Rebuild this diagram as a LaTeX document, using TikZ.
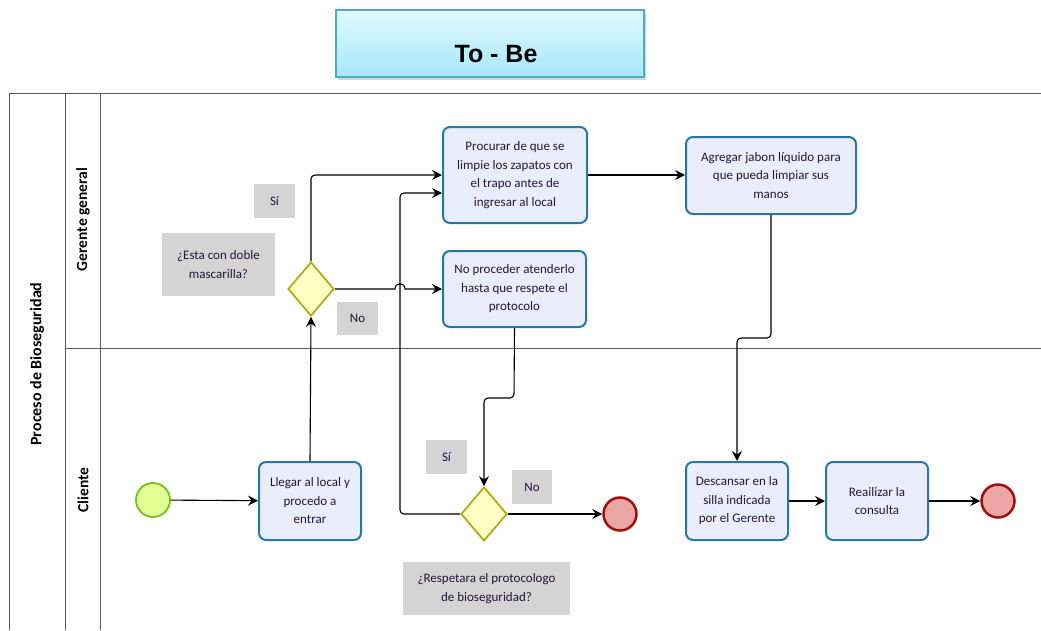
\documentclass[tikz,border=0pt]{standalone}
\usepackage{fontspec}
\setmainfont{Carlito}
\newfontfamily\arialfont{Liberation Sans}
\usetikzlibrary{shapes.geometric,arrows.meta,shadows}
\definecolor{taskfill}{RGB}{234,238,252}
\definecolor{taskdraw}{RGB}{40,120,165}
\definecolor{txt}{RGB}{40,20,60}
\definecolor{gwfill}{RGB}{255,255,196}
\definecolor{gwdraw}{RGB}{180,170,30}
\definecolor{stfill}{RGB}{226,255,150}
\definecolor{stdraw}{RGB}{120,190,30}
\definecolor{enfill}{RGB}{236,166,166}
\definecolor{endraw}{RGB}{160,15,15}
\definecolor{lblfill}{RGB}{212,212,212}
\definecolor{pooldraw}{RGB}{90,90,90}
\definecolor{titletop}{RGB}{226,249,255}
\definecolor{titlebot}{RGB}{166,232,250}
\definecolor{titledraw}{RGB}{75,172,198}
\tikzset{
  task/.style={draw=taskdraw, fill=taskfill, line width=2pt, rounded corners=7pt,
    align=center, text=txt, font=\fontsize{13}{18.5}\selectfont, inner sep=2pt},
  gw/.style={diamond, draw=gwdraw, fill=gwfill, line width=1.8pt, minimum width=46pt,
    minimum height=54pt, inner sep=0pt},
  startev/.style={circle, draw=stdraw, fill=stfill, line width=1.8pt, minimum size=34pt, inner sep=0pt},
  endev/.style={circle, draw=endraw, fill=enfill, line width=2.5pt, minimum size=33pt, inner sep=0pt},
  lbl/.style={fill=lblfill, align=center, text=txt, font=\fontsize{13}{18.5}\selectfont, inner sep=0pt},
  flow/.style={line width=1.1pt, -{Stealth[length=10pt,width=10pt,inset=3.5pt]}, rounded corners=4pt},
  poolline/.style={draw=pooldraw, line width=1pt},
  lanetxt/.style={rotate=90, font=\bfseries\fontsize{15.5}{18}\selectfont},
}
\begin{document}
\begin{tikzpicture}[x=1pt,y=-1pt]
\useasboundingbox (0,0) rectangle (1041,630);
% title
\node[draw=titledraw, line width=1.5pt, top color=titletop, bottom color=titlebot,
  minimum width=308pt, minimum height=67pt, drop shadow={opacity=0.35, shadow xshift=2pt, shadow yshift=-3pt}] (title) at (490,43.5) {};
\node[font=\arialfont\bfseries\fontsize{25}{28}\selectfont, anchor=base] (titletxt) at (496,62) {To - Be};
% pool
\draw[poolline] (1041,93) -- (9,93) -- (9,630);
\draw[poolline] (65,93) -- (65,630);
\draw[poolline] (100,93) -- (100,630);
\draw[poolline] (65,348) -- (1041,348);
\node[lanetxt, font=\bfseries\fontsize{16}{18}\selectfont] (pool) at (37,364) {Proceso de Bioseguridad};
\node[lanetxt] (lane1) at (83,219.5) {Gerente general};
\node[lanetxt] (lane2) at (83,490) {Cliente};
% labels
\node[lbl, minimum width=41pt, minimum height=34pt] (si1) at (274.5,201) {Sí};
\node[lbl, minimum width=113pt, minimum height=63pt] (q1) at (218.5,264.5) {¿Esta con doble\\mascarilla?};
\node[lbl, minimum width=41pt, minimum height=33pt] (no1) at (357.5,318.5) {No};
\node[lbl, minimum width=41pt, minimum height=34pt] (si2) at (446.5,457) {Sí};
\node[lbl, minimum width=40pt, minimum height=34pt] (no2) at (532,487) {No};
\node[lbl, minimum width=167pt, minimum height=53pt] (q2) at (486.5,588.5) {¿Respetara el protocologo\\de bioseguridad?};
% nodes
\node[startev] (start) at (153,500) {};
\node[task, minimum width=102pt, minimum height=78pt] (llegar) at (310,501) {Llegar al local y\\procedo a\\entrar};
\node[gw] (g1) at (311,289) {};
\node[task, minimum width=144pt, minimum height=96pt] (proc) at (515,175) {Procurar de que se\\limpie los zapatos con\\el trapo antes de\\ingresar al local};
\node[task, minimum width=143pt, minimum height=76pt] (nop) at (514.5,289) {No proceder atenderlo\\hasta que respete el\\protocolo};
\node[task, minimum width=170pt, minimum height=77pt] (agr) at (771,175.5) {Agregar jabon líquido para\\que pueda limpiar sus\\manos};
\node[gw] (g2) at (484,514) {};
\node[endev] (end1) at (620,514) {};
\node[task, minimum width=102pt, minimum height=78pt] (desc) at (737,501) {Descansar en la\\silla indicada\\por el Gerente};
\node[task, minimum width=102pt, minimum height=78pt] (real) at (877,501) {Reailizar la\\consulta};
\node[endev] (end2) at (998,501) {};
% flows
\draw[flow] (start) -- (llegar);
\draw[flow] (llegar.north) -- (g1.south);
\draw[flow] (g1.north) |- (proc.west);
\draw[flow, rounded corners=0pt] (g1.east) -- (395,289) .. controls (395,282) and (405,282) .. (405,289) -- (nop.west);
\draw[flow] (g2.west) -- (400,514) -- (400,193) -- ([yshift=-18pt]proc.west);
\draw[flow] (nop.south) -- (514,398) -- (484,398) -- (g2.north);
\draw[flow] (g2.east) -- (end1);
\draw[flow] (proc.east) -- (proc.east -| agr.west);
\draw[flow] (agr.south) -- (771,338) -- (737,338) -- (desc.north);
\draw[flow] (desc) -- (real);
\draw[flow] (real) -- (end2);
\end{tikzpicture}
\end{document}
